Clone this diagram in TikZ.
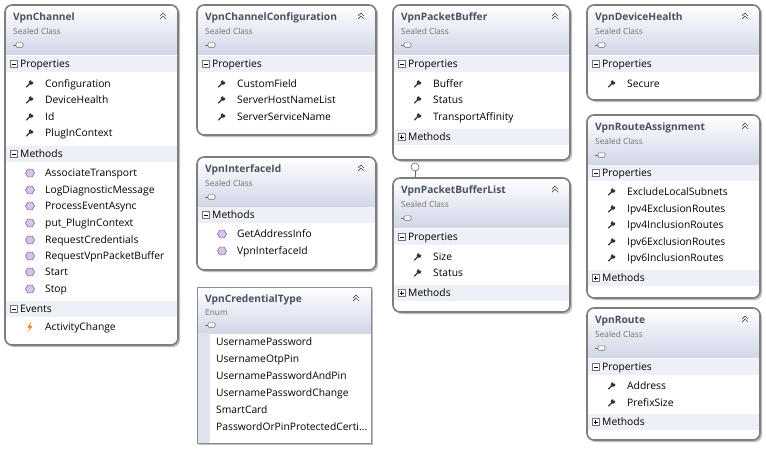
\documentclass[tikz,border=0pt]{standalone}
\usepackage{fontspec}
\setmainfont{Open Sans}
\usetikzlibrary{shapes.geometric}
\definecolor{hdr}{HTML}{D2D7E8}
\definecolor{band}{HTML}{EEF0F7}
\definecolor{bord}{HTML}{7E7E7E}
\definecolor{ttl}{HTML}{4A5060}
\definecolor{sub}{HTML}{707070}
\definecolor{mth}{HTML}{8A5CB8}
\tikzset{
  txt/.style={anchor=base west,inner sep=0pt,yshift=-3.8pt,font=\fontsize{10.3}{12}\selectfont,text=black},
  ttlst/.style={anchor=base west,inner sep=0pt,yshift=-3.8pt,font=\fontsize{10.2}{12}\selectfont\bfseries,text=ttl},
  subst/.style={anchor=base west,inner sep=0pt,yshift=-3pt,font=\fontsize{8.3}{9}\selectfont,text=sub},
  border/.style={draw=bord,line width=1.6pt,rounded corners=7pt},
}
\newcommand\mybox[7]{%
  \fill[black!25,rounded corners=7pt] (#2+2,#3+2) rectangle (#4+2,#5+2);
  \begin{scope}
    \clip[rounded corners=7pt] (#2,#3) rectangle (#4,#5);
    \fill[white] (#2,#3) rectangle (#4,#5);
    \shade[top color=white,bottom color=hdr] (#2,#3) rectangle (#4,#3+49);
  \end{scope}
  \draw[border] (#2,#3) rectangle (#4,#5);
  \node[ttlst] (#1) at (#2+8,#3+12) {#6};
  \node[subst] (#1s) at (#2+8,#3+26) {#7};
  \myicon{#2+8}{#3+40}
  \mychev{#4-15}{#3+11}
}
\newcommand\myicon[2]{%
  \draw[sub,line width=0.5pt] (#1,#2) -- (#1+3,#2);
  \filldraw[draw=sub,fill=white,rounded corners=1pt,line width=0.6pt] (#1+3,#2-2.2) rectangle (#1+10,#2+2.2);
}
\newcommand\mychev[2]{%
  \draw[black!70,line width=0.7pt] (#1-3,#2) -- (#1,#2-3) -- (#1+3,#2);
  \draw[black!70,line width=0.7pt] (#1-3,#2+3) -- (#1,#2) -- (#1+3,#2+3);
}
\newcommand\mysec[6]{%
  \fill[band] (#2+1,#4-8) rectangle (#3-1,#4+8);
  \filldraw[draw=black!55,fill=white,line width=0.4pt] (#2+5,#4-3.5) rectangle (#2+12,#4+3.5);
  \draw[black,line width=0.6pt] (#2+6.5,#4) -- (#2+10.5,#4);
  \ifnum#6=0 \draw[black,line width=0.6pt] (#2+8.5,#4-2) -- (#2+8.5,#4+2);\fi
  \node[txt] (#1) at (#2+15,#4) {#5};
}
\newcommand\myprop[4]{%
  \begin{scope}[shift={(#2+24,#3)}]
    \draw[black!80,line width=1.3pt,line cap=round] (-2.5,3) -- (1,-0.5);
    \fill[black!80] (2,-1.5) circle (2.3pt);
    \fill[white] (3.2,-3.2) circle (1.2pt);
  \end{scope}
  \node[txt] (#1) at (#2+40,#3) {#4};
}
\newcommand\mymeth[4]{%
  \node[regular polygon,regular polygon sides=6,minimum size=9pt,inner sep=0pt,draw=mth,fill=mth!35,line width=0.6pt] at (#2+25,#3) {};
  \node[txt] (#1) at (#2+40,#3) {#4};
}
\newcommand\myevent[4]{%
  \fill[orange!90!red] (#2+26,#3-5) -- (#2+22.5,#3+0.5) -- (#2+25,#3+0.5) -- (#2+23,#3+5) -- (#2+27.5,#3-1) -- (#2+25,#3-1) -- cycle;
  \node[txt] (#1) at (#2+40,#3) {#4};
}
\begin{document}
\begin{tikzpicture}[x=1pt,y=-1pt]
\useasboundingbox[fill=white] (0,0) rectangle (766,464);
\mybox{vc}{5}{5}{178}{345}{VpnChannel}{Sealed Class}
\mysec{vcp}{5}{178}{64}{Properties}{1}
\myprop{vc1}{5}{84}{Configuration}
\myprop{vc2}{5}{100}{DeviceHealth}
\myprop{vc3}{5}{117}{Id}
\myprop{vc4}{5}{133}{PlugInContext}
\mysec{vcm}{5}{178}{154}{Methods}{1}
\mymeth{vm1}{5}{173}{AssociateTransport}
\mymeth{vm2}{5}{190}{LogDiagnosticMessage}
\mymeth{vm3}{5}{206}{ProcessEventAsync}
\mymeth{vm4}{5}{223}{put\_PlugInContext}
\mymeth{vm5}{5}{240}{RequestCredentials}
\mymeth{vm6}{5}{256}{RequestVpnPacketBuffer}
\mymeth{vm7}{5}{272}{Start}
\mymeth{vm8}{5}{289}{Stop}
\mysec{vce}{5}{178}{309}{Events}{1}
\myevent{ve1}{5}{327}{ActivityChange}
\mybox{vcc}{197}{5}{376}{135}{VpnChannelConfiguration}{Sealed Class}
\mysec{vccp}{197}{376}{64}{Properties}{1}
\myprop{cc1}{197}{84}{CustomField}
\myprop{cc2}{197}{100}{ServerHostNameList}
\myprop{cc3}{197}{117}{ServerServiceName}
\mybox{vii}{197}{157}{376}{270}{VpnInterfaceId}{Sealed Class}
\mysec{viim}{197}{376}{215}{Methods}{1}
\mymeth{ii1}{197}{234}{GetAddressInfo}
\mymeth{ii2}{197}{251}{VpnInterfaceId}
\fill[black!25] (199,289) rectangle (373,445);
\fill[white] (197,287) rectangle (371,443);
\shade[top color=white,bottom color=hdr] (197,287) rectangle (371,333);
\fill[hdr!70] (197,333) rectangle (210,443);
\draw[black!45,line width=0.6pt] (197,287) rectangle (371,443);
\node[ttlst] (vct) at (205,299) {VpnCredentialType};
\node[subst] (vcts) at (205,312) {Enum};
\myicon{205}{325}
\mychev{356}{298}
\node[txt] (e1) at (216,342) {UsernamePassword};
\node[txt] (e2) at (216,359) {UsernameOtpPin};
\node[txt] (e3) at (216,376) {UsernamePasswordAndPin};
\node[txt] (e4) at (216,393) {UsernamePasswordChange};
\node[txt] (e5) at (216,410) {SmartCard};
\node[txt] (e6) at (216,427) {PasswordOrPinProtectedCerti...};
\mybox{vpb}{393}{5}{570}{160}{VpnPacketBuffer}{Sealed Class}
\mysec{vpbp}{393}{570}{64}{Properties}{1}
\myprop{pb1}{393}{84}{Buffer}
\myprop{pb2}{393}{100}{Status}
\myprop{pb3}{393}{117}{TransportAffinity}
\mysec{vpbm}{393}{570}{137}{Methods}{0}
\mybox{vpl}{393}{178}{570}{312}{VpnPacketBufferList}{Sealed Class}
\mysec{vplp}{393}{570}{237}{Properties}{1}
\myprop{pl1}{393}{257}{Size}
\myprop{pl2}{393}{273}{Status}
\mysec{vplm}{393}{570}{293}{Methods}{0}
\coordinate (lolli) at (415,167);
\draw[black!60,line width=0.6pt] (lolli) ++(0,4) -- (415,177);
\draw[black!60,line width=0.6pt,fill=white] (lolli) circle (4);
\mybox{vdh}{587}{5}{760}{100}{VpnDeviceHealth}{Sealed Class}
\mysec{vdhp}{587}{760}{64}{Properties}{1}
\myprop{dh1}{587}{84}{Secure}
\mybox{vra}{587}{115}{760}{298}{VpnRouteAssignment}{Sealed Class}
\mysec{vrap}{587}{760}{173}{Properties}{1}
\myprop{ra1}{587}{192}{ExcludeLocalSubnets}
\myprop{ra2}{587}{209}{Ipv4ExclusionRoutes}
\myprop{ra3}{587}{225}{Ipv4InclusionRoutes}
\myprop{ra4}{587}{242}{Ipv6ExclusionRoutes}
\myprop{ra5}{587}{258}{Ipv6InclusionRoutes}
\mysec{vram}{587}{760}{278}{Methods}{0}
\mybox{vr}{587}{308}{760}{440}{VpnRoute}{Sealed Class}
\mysec{vrp}{587}{760}{367}{Properties}{1}
\myprop{r1}{587}{386}{Address}
\myprop{r2}{587}{403}{PrefixSize}
\mysec{vrm}{587}{760}{422}{Methods}{0}
\end{tikzpicture}
\end{document}
